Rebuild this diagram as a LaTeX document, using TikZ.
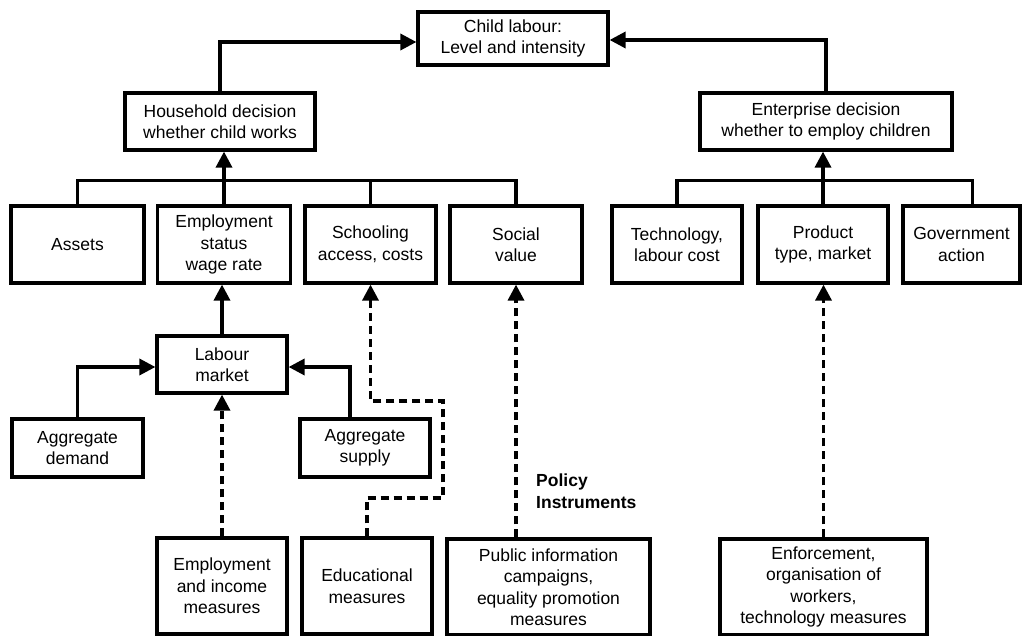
\documentclass[tikz,border=0pt]{standalone}
\usepackage{fontspec}
\setmainfont{Liberation Sans}
\usetikzlibrary{arrows.meta}
\begin{document}
\begin{tikzpicture}[x=1pt,y=-1pt,
  box/.style={draw,line width=3.2pt,align=center,inner sep=0pt,font=\fontsize{17.5}{21.5}\selectfont},
  conn/.style={line width=3.4pt},
  arr/.style={conn,-{Triangle[length=16pt,width=16pt]}},
  darr/.style={arr,dash pattern=on 8pt off 5pt},
]
\useasboundingbox (0,0) rectangle (1024,636);
% top
\node[box,minimum width=190,minimum height=53] (child) at (513,38.5) {Child labour:\\Level and intensity};
\node[box,minimum width=190,minimum height=57] (household) at (220,121.5) {Household decision\\whether child works};
\node[box,minimum width=252,minimum height=57] (enterprise) at (826,121.5) {Enterprise decision\\whether to employ children};
% row of factors
\node[box,minimum width=133,minimum height=77] (assets) at (77.5,244.5) {Assets};
\node[box,minimum width=133,minimum height=77] (emp) at (224,244.5) {Employment\\status\\wage rate};
\node[box,minimum width=131,minimum height=77] (school) at (370.5,244.5) {Schooling\\access, costs};
\node[box,minimum width=132,minimum height=77] (social) at (516,244.5) {Social\\value};
\node[box,minimum width=130,minimum height=77] (tech) at (677,244.5) {Technology,\\labour cost};
\node[box,minimum width=130,minimum height=77] (product) at (823,244.5) {Product\\type, market};
\node[box,minimum width=117,minimum height=77] (govt) at (961.5,244.5) {Government\\action};
% labour market
\node[box,minimum width=130,minimum height=57] (labour) at (222,364.5) {Labour\\market};
\node[box,minimum width=131,minimum height=58] (aggdem) at (77.5,448) {Aggregate\\demand};
\node[box,minimum width=130,minimum height=58] (aggsup) at (365,448) {Aggregate\\supply};
% policy instruments
\node[box,minimum width=130,minimum height=96] (empinc) at (222,586) {Employment\\and income\\measures};
\node[box,minimum width=130,minimum height=96] (edu) at (367,586) {Educational\\measures};
\node[box,minimum width=203,minimum height=96] (pubinfo) at (548.5,587) {Public information\\campaigns,\\equality promotion\\measures};
\node[box,minimum width=207,minimum height=96] (enforce) at (823.5,587) {Enforcement,\\organisation of\\workers,\\technology measures};
\node[anchor=west,align=left,inner sep=0pt,font=\fontsize{17.5}{22}\selectfont\bfseries] (policy) at (536,491.5) {Policy\\Instruments};
% connectors to top
\draw[arr] (household.north) |- ([yshift=-3.5pt]child.west);
\draw[arr] (enterprise.north) |- ([yshift=-1.5pt]child.east);
% left bracket
\draw[conn] (assets.north) -- ++(0,-24) -| (social.north);
\draw[conn] (school.north) -- ++(0,-24);
\draw[conn] (emp.north) -- ++(0,-24);
\draw[arr] ([yshift=24pt]emp.north) -- (emp.north |- household.south);
% right bracket
\draw[conn] (tech.north) -- ++(0,-24) -| ([xshift=11pt]govt.north);
\draw[arr] (product.north) -- (product.north |- enterprise.south);
% labour market
\draw[arr] (labour.north) -- (labour.north |- emp.south);
\draw[arr] (aggdem.north) |- ([yshift=-2.5pt]labour.west);
\draw[arr] ([xshift=-15pt]aggsup.north) |- ([yshift=-2.5pt]labour.east);
% policy dashed
\draw[darr] (empinc.north) -- (labour.south);
\coordinate (e1) at (443,498);
\coordinate (e2) at (443,401);
\draw[darr] (edu.north) |- (e1) -- (e2) -| (school.south);
\draw[darr] (pubinfo.north -| social.south) -- (social.south);
\draw[darr] (enforce.north) -- (enforce.north |- product.south);
\end{tikzpicture}
\end{document}
